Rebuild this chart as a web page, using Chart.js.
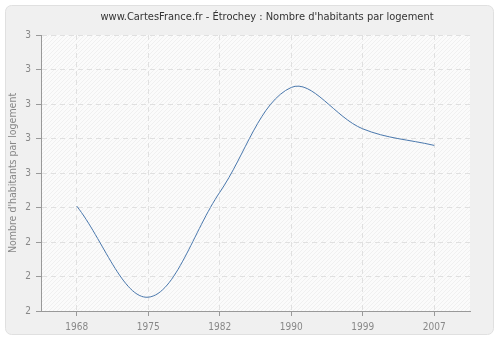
<!DOCTYPE html>
<html>
<head>
<meta charset="utf-8">
<script src="https://cdn.jsdelivr.net/npm/chart.js@4"></script>
<style>
  html, body { margin: 0; padding: 0; background: #ffffff; }
  #wrap { width: 500px; height: 340px; position: relative; }
</style>
</head>
<body>
<div id="wrap"><canvas id="habChart" width="500" height="340"></canvas></div>
<script>
// Nombre d'habitants par logement - Étrochey
const years = ['1968', '1975', '1982', '1990', '1999', '2007'];
const habitantsParLogement = [2.38, 2.05, 2.43, 2.81, 2.66, 2.60];
const yMin = 2;
const yMax = 3;
const yStep = 0.125;

const chartTitle = "www.CartesFrance.fr - Étrochey : Nombre d'habitants par logement";
const yTitle = "Nombre d'habitants par logement";
const fontFamily = '"DejaVu Sans Condensed", "DejaVu Sans", sans-serif';

// hatched background for the plot area
function makeHatch() {
    const c = document.createElement('canvas');
    c.width = 4;
    c.height = 4;
    const g = c.getContext('2d');
    g.fillStyle = '#fbfbfb';
    g.fillRect(0, 0, 4, 4);
    g.strokeStyle = '#f0f0f0';
    g.lineWidth = 1;
    g.beginPath();
    g.moveTo(0, 4); g.lineTo(4, 0);
    g.moveTo(-1, 1); g.lineTo(1, -1);
    g.moveTo(3, 5); g.lineTo(5, 3);
    g.stroke();
    return g.createPattern(c, 'repeat');
}

const frameBackground = {
    id: 'frameBackground',
    beforeDraw(chart) {
        const ctx = chart.ctx;
        const area = chart.chartArea;
        ctx.save();
        // outer rounded frame
        ctx.fillStyle = '#f0f0f0';
        ctx.strokeStyle = '#e0e0e0';
        ctx.lineWidth = 1;
        ctx.beginPath();
        ctx.roundRect(5.5, 5.5, 488, 329, 6);
        ctx.fill();
        ctx.stroke();
        // plot area
        ctx.fillStyle = makeHatch();
        ctx.fillRect(area.left, area.top, area.right - area.left, area.bottom - area.top);
        // title
        ctx.fillStyle = '#333333';
        ctx.font = '11px ' + fontFamily;
        ctx.textAlign = 'center';
        ctx.textBaseline = 'middle';
        ctx.fillText(chartTitle, 267, 17);
        ctx.restore();
    }
};

const ctx = document.getElementById('habChart');

window.habChart = new Chart(ctx, {
    type: 'line',
    data: {
        labels: years,
        datasets: [{
            data: habitantsParLogement,
            borderColor: '#4a78ad',
            borderWidth: 1,
            pointRadius: 0,
            fill: false,
            tension: 0.36
        }]
    },
    options: {
        responsive: false,
        animation: false,
        layout: {
            padding: { left: 0, right: 30, top: 35, bottom: 2 }
        },
        plugins: {
            legend: { display: false },
            title: { display: false },
            tooltip: { enabled: false }
        },
        scales: {
            x: {
                type: 'category',
                offset: true,
                grid: {
                    color: '#e0e0e0',
                    tickColor: '#999999',
                    tickBorderDash: [],
                    tickLength: 5
                },
                border: { color: '#999999', dash: [5, 4] },
                ticks: {
                    color: '#888888',
                    font: { size: 10, family: fontFamily },
                    padding: 5,
                    maxRotation: 0
                }
            },
            y: {
                min: yMin,
                max: yMax,
                afterFit(scale) { scale.width = 41; },
                grid: {
                    color: '#e0e0e0',
                    tickColor: '#999999',
                    tickBorderDash: [],
                    tickLength: 5
                },
                border: { color: '#999999', dash: [5, 4] },
                ticks: {
                    stepSize: yStep,
                    color: '#888888',
                    font: { size: 10, family: fontFamily },
                    padding: 5,
                    callback: function(value) {
                        return Math.round(value);
                    }
                },
                title: {
                    display: true,
                    text: yTitle,
                    color: '#888888',
                    font: { size: 10.5, family: fontFamily },
                    padding: { top: 7, bottom: 0 }
                }
            }
        }
    },
    plugins: [frameBackground]
});
</script>
</body>
</html>
